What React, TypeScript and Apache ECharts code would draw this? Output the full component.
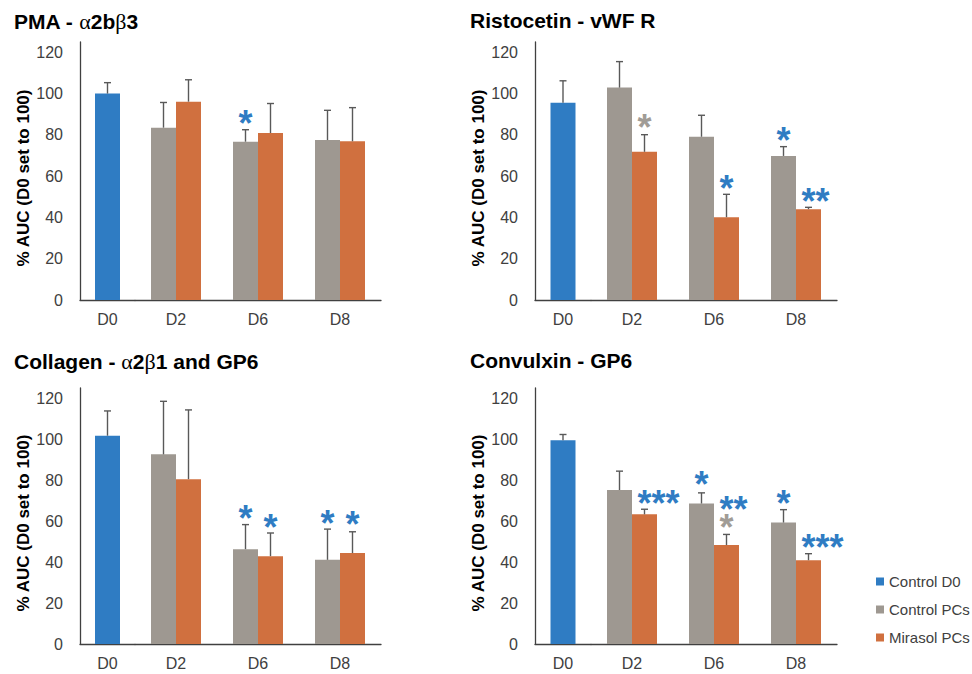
import React, { useEffect, useRef } from 'react';
import * as echarts from 'echarts';

// ---------- data ----------
const dayD0 = ['D0'];
const days = ['D2', 'D6', 'D8'];
const seriesNames = ['Control D0', 'Control PCs', 'Mirasol PCs'];
const yAxisTitle = '% AUC (D0 set to 100)';

// PMA - α2bβ3
const pmaD0 = [100];
const pmaD0Sd = [5.3];
const pmaControl = [83.5, 76.7, 77.5];
const pmaControlSd = [12.2, 5.8, 14.4];
const pmaMirasol = [96.1, 80.9, 76.9];
const pmaMirasolSd = [10.6, 14.3, 16.3];
// [day index, group (0 control, 1 mirasol), value, text, colour key]
const pmaNotes: [number, number, number, string, string][] = [[1, 0, 89.0, '*', 'b']];

// Ristocetin - vWF R
const risD0 = [95.6];
const risD0Sd = [10.6];
const risControl = [102.9, 79.1, 69.8];
const risControlSd = [12.6, 10.4, 4.5];
const risMirasol = [71.8, 40.1, 44.0];
const risMirasolSd = [8.3, 11.1, 0.9];
const risNotes: [number, number, number, string, string][] = [
  [0, 1, 87.2, '*', 'g'],
  [1, 1, 57.6, '*', 'b'],
  [2, 0, 80.8, '*', 'b'],
  [2, 1, 51.3, '**', 'b'],
];

// Collagen - α2β1 and GP6
const colD0 = [101.7];
const colD0Sd = [12.1];
const colControl = [92.6, 46.3, 41.1];
const colControlSd = [25.9, 12.0, 15.0];
const colMirasol = [80.5, 42.9, 44.4];
const colMirasolSd = [33.8, 11.3, 10.4];
const colNotes: [number, number, number, string, string][] = [
  [1, 0, 64.6, '*', 'b'],
  [1, 1, 60.4, '*', 'b'],
  [2, 0, 62.5, '*', 'b'],
  [2, 1, 61.9, '*', 'b'],
];

// Convulxin - GP6
const conD0 = [99.5];
const conD0Sd = [2.8];
const conControl = [75.2, 68.6, 59.3];
const conControlSd = [9.2, 5.2, 6.3];
const conMirasol = [63.3, 48.3, 40.9];
const conMirasolSd = [2.5, 5.2, 3.2];
const conNotes: [number, number, number, string, string][] = [
  [0, 1, 72.3, '***', 'b'],
  [1, 0, 81.3, '*', 'b'],
  [1, 1, 69.0, '**', 'b'],
  [1, 1, 60.4, '*', 'g'],
  [2, 0, 72.3, '*', 'b'],
  [2, 1, 50.6, '***', 'b'],
];

// ---------- styles ----------
const BLUE = '#2F7CC3';
const GRAY = '#9E9891';
const ORANGE = '#D0703F';
const ERR = '#595959';
const AXIS = '#404040';
const TXT = '#404040';
const NOTE_COLORS: Record<string, string> = { b: '#2F7CC3', g: '#A19C96' };
const FONT = 'Liberation Sans, Arial, sans-serif';
const SERIF = 'Liberation Serif, Times New Roman, serif';
const BAR_W = 25;
const NOTE_FS = 36;

const panels = [
  {
    title: '{b|PMA - }{g|α}{b|2b}{g|β}{b|3}',
    d0: pmaD0, d0Sd: pmaD0Sd, ctrl: pmaControl, ctrlSd: pmaControlSd, mir: pmaMirasol, mirSd: pmaMirasolSd, notes: pmaNotes,
    layout: { d0Left: 80, mainLeft: 135, top: 42, height: 258, titleLeft: 9, titleTop: 5 },
  },
  {
    title: '{b|Ristocetin - vWF R}',
    d0: risD0, d0Sd: risD0Sd, ctrl: risControl, ctrlSd: risControlSd, mir: risMirasol, mirSd: risMirasolSd, notes: risNotes,
    layout: { d0Left: 535, mainLeft: 591, top: 42, height: 258, titleLeft: 465, titleTop: 5 },
  },
  {
    title: '{b|Collagen - }{g|α}{b|2}{g|β}{b|1 and GP6}',
    d0: colD0, d0Sd: colD0Sd, ctrl: colControl, ctrlSd: colControlSd, mir: colMirasol, mirSd: colMirasolSd, notes: colNotes,
    layout: { d0Left: 80, mainLeft: 135, top: 388, height: 256, titleLeft: 9, titleTop: 345 },
  },
  {
    title: '{b|Convulxin - GP6}',
    d0: conD0, d0Sd: conD0Sd, ctrl: conControl, ctrlSd: conControlSd, mir: conMirasol, mirSd: conMirasolSd, notes: conNotes,
    layout: { d0Left: 535, mainLeft: 591, top: 388, height: 256, titleLeft: 465, titleTop: 345 },
  },
];

function errRender(dx: number) {
  return (params: any, api: any) => {
    const x = api.value(0);
    const m = api.value(1);
    const t = api.value(2);
    const p0 = api.coord([x, m]);
    const p1 = api.coord([x, t]);
    const cx = p0[0] + dx;
    const st = { stroke: ERR, lineWidth: 1.4 };
    return {
      type: 'group',
      children: [
        { type: 'line', shape: { x1: cx, y1: p0[1], x2: cx, y2: p1[1] }, style: st },
        { type: 'line', shape: { x1: cx - 3.5, y1: p1[1], x2: cx + 3.5, y2: p1[1] }, style: st },
      ],
    };
  };
}

function buildOption() {
  const grid: any[] = [];
  const xAxis: any[] = [];
  const yAxis: any[] = [];
  const series: any[] = [];
  const title: any[] = [];

  panels.forEach((p, i) => {
    const L = p.layout;
    const gA = i * 2;
    const gB = i * 2 + 1;
    grid.push({ left: L.d0Left, top: L.top, width: L.mainLeft - L.d0Left, height: L.height });
    grid.push({ left: L.mainLeft, top: L.top, width: 246, height: L.height });

    title.push({
      text: p.title,
      left: L.titleLeft,
      top: L.titleTop,
      textStyle: {
        rich: {
          b: { fontFamily: FONT, fontWeight: 'bold', fontSize: 21, color: '#000' },
          g: { fontFamily: SERIF, fontWeight: 'normal', fontSize: 22, color: '#000' },
        },
      },
    });

    const xCommon = {
      type: 'category',
      axisLine: { show: true, lineStyle: { color: AXIS, width: 1.3 } },
      axisTick: { show: false },
      axisLabel: { fontFamily: FONT, fontSize: 16, color: TXT, margin: 11 },
      splitLine: { show: false },
    };
    xAxis.push({ ...xCommon, gridIndex: gA, data: dayD0 });
    xAxis.push({ ...xCommon, gridIndex: gB, data: days });

    const yCommon = { type: 'value', min: 0, max: 125, interval: 20, splitLine: { show: false } };
    yAxis.push({
      ...yCommon,
      gridIndex: gA,
      axisLine: { show: true, lineStyle: { color: AXIS, width: 1.3 } },
      axisTick: { show: false },
      axisLabel: { fontFamily: FONT, fontSize: 16, color: TXT, margin: 17, showMaxLabel: false },
      name: yAxisTitle,
      nameLocation: 'middle',
      nameGap: 45,
      nameTextStyle: { fontFamily: FONT, fontSize: 17, fontWeight: 'bold', color: '#000', padding: [0, 14, 0, 0] },
    });
    yAxis.push({ ...yCommon, gridIndex: gB, show: false });

    series.push({
      name: seriesNames[0], type: 'bar', xAxisIndex: gA, yAxisIndex: gA,
      data: p.d0, barWidth: BAR_W, itemStyle: { color: BLUE },
    });
    series.push({
      name: seriesNames[1], type: 'bar', xAxisIndex: gB, yAxisIndex: gB,
      data: p.ctrl, barWidth: BAR_W, barGap: '0%', itemStyle: { color: GRAY },
    });
    series.push({
      name: seriesNames[2], type: 'bar', xAxisIndex: gB, yAxisIndex: gB,
      data: p.mir, barWidth: BAR_W, barGap: '0%', itemStyle: { color: ORANGE },
    });

    series.push({
      type: 'custom', xAxisIndex: gA, yAxisIndex: gA, z: 5,
      data: p.d0.map((v, k) => [k, v, v + p.d0Sd[k]]),
      renderItem: errRender(0),
    });
    series.push({
      type: 'custom', xAxisIndex: gB, yAxisIndex: gB, z: 5,
      data: p.ctrl.map((v, k) => [k, v, v + p.ctrlSd[k]]),
      renderItem: errRender(-BAR_W / 2),
    });
    series.push({
      type: 'custom', xAxisIndex: gB, yAxisIndex: gB, z: 5,
      data: p.mir.map((v, k) => [k, v, v + p.mirSd[k]]),
      renderItem: errRender(BAR_W / 2),
    });

    const notes = p.notes;
    series.push({
      type: 'custom', xAxisIndex: gB, yAxisIndex: gB, z: 6,
      data: notes.map((n) => [n[0], n[2], n[1]]),
      renderItem: (params: any, api: any) => {
        const n = notes[params.dataIndex];
        const c = api.coord([api.value(0), api.value(1)]);
        const left = c[0] + (api.value(2) === 0 ? -BAR_W : 0) + 5.5;
        return {
          type: 'text',
          style: {
            text: n[3],
            x: left,
            y: c[1] + NOTE_FS * 0.2,
            fill: NOTE_COLORS[n[4]],
            fontSize: NOTE_FS,
            fontWeight: 'bold',
            fontFamily: FONT,
            align: 'left',
            verticalAlign: 'middle',
            lineHeight: NOTE_FS * 0.45,
          },
        };
      },
    });
  });

  return {
    animation: false,
    backgroundColor: '#fff',
    title,
    grid,
    xAxis,
    yAxis,
    series,
    legend: {
      data: seriesNames,
      orient: 'vertical',
      left: 871,
      top: 569,
      itemWidth: 8,
      itemHeight: 8,
      itemGap: 13,
      icon: 'rect',
      textStyle: { fontFamily: FONT, fontSize: 15, color: TXT },
    },
  };
}

export default function App() {
  const ref = useRef<HTMLDivElement>(null);
  useEffect(() => {
    if (!ref.current) return;
    const chart = echarts.init(ref.current, undefined, { renderer: 'svg' });
    chart.setOption(buildOption() as any);
    return () => chart.dispose();
  }, []);
  return (
    <div
      ref={ref}
      style={{ position: 'absolute', left: 0, top: 0, width: 972, height: 674, background: '#fff' }}
    />
  );
}
